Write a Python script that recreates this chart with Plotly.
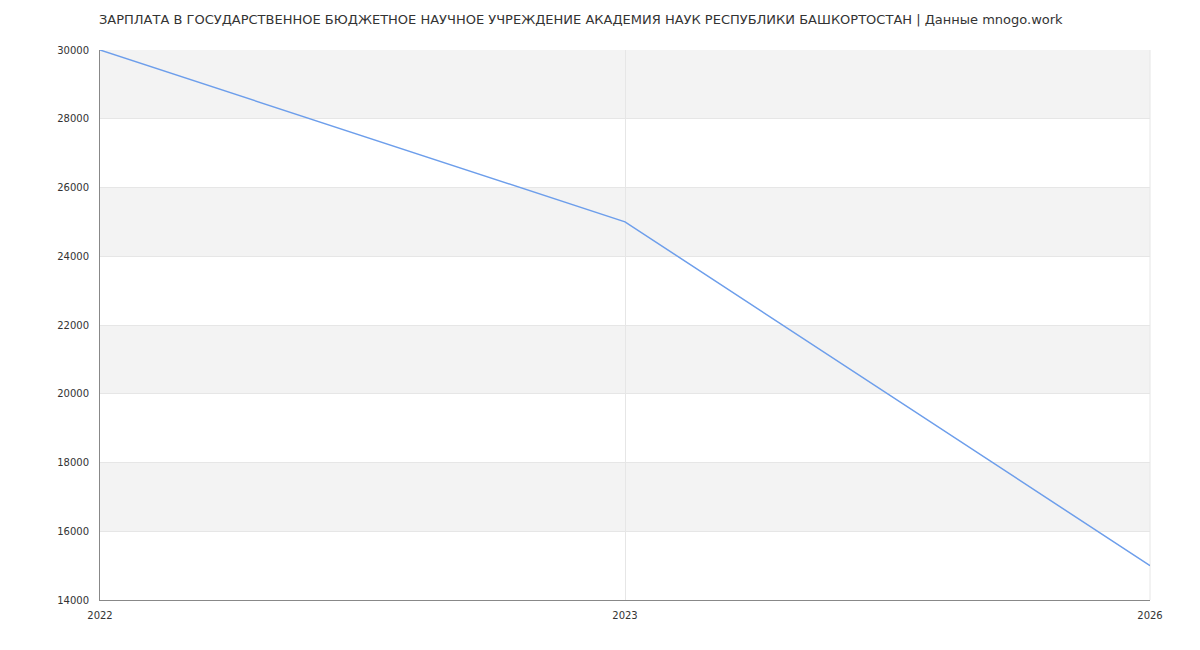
import plotly.graph_objects as go

years = ["2022", "2023", "2026"]
salary = [30000, 25000, 15000]
band_ranges = [(28000, 30000), (24000, 26000), (20000, 22000), (16000, 18000)]

fig = go.Figure(go.Scatter(x=years, y=salary, mode="lines",
                           line=dict(color="#6d9eeb", width=1.5), hoverinfo="x+y"))
shapes = [dict(type="rect", xref="paper", yref="y", x0=0, x1=1, y0=a, y1=b,
               fillcolor="#f3f3f3", line_width=0, layer="below") for a, b in band_ranges]
shapes.append(dict(type="line", xref="paper", yref="paper", x0=1, x1=1, y0=0, y1=1,
                   line=dict(color="#e6e6e6", width=1), layer="below"))
fig.update_layout(
    width=1200, height=650, plot_bgcolor="white", paper_bgcolor="white",
    margin=dict(l=92, r=58, t=42, b=58), showlegend=False, shapes=shapes,
    font=dict(family="DejaVu Sans", size=10, color="#333"),
    title=dict(text="ЗАРПЛАТА В ГОСУДАРСТВЕННОЕ БЮДЖЕТНОЕ НАУЧНОЕ УЧРЕЖДЕНИЕ АКАДЕМИЯ НАУК РЕСПУБЛИКИ БАШКОРТОСТАН | Данные mnogo.work",
               x=0.0758, xanchor="left", y=0.99, yanchor="top",
               font=dict(size=13, color="#333")),
)
fig.update_xaxes(type="category", range=[0, 2], showgrid=True, gridcolor="#e6e6e6",
                 showline=True, linecolor="#888", ticks="outside", ticklen=6,
                 tickcolor="rgba(0,0,0,0)", tickfont=dict(size=10))
fig.update_yaxes(range=[14000, 30000], dtick=2000, tickformat="d", showgrid=True,
                 gridcolor="#e6e6e6", showline=True, linecolor="#888", ticks="outside",
                 ticklen=8, tickcolor="rgba(0,0,0,0)", zeroline=False, tickfont=dict(size=10))
fig.write_html("out.html")
